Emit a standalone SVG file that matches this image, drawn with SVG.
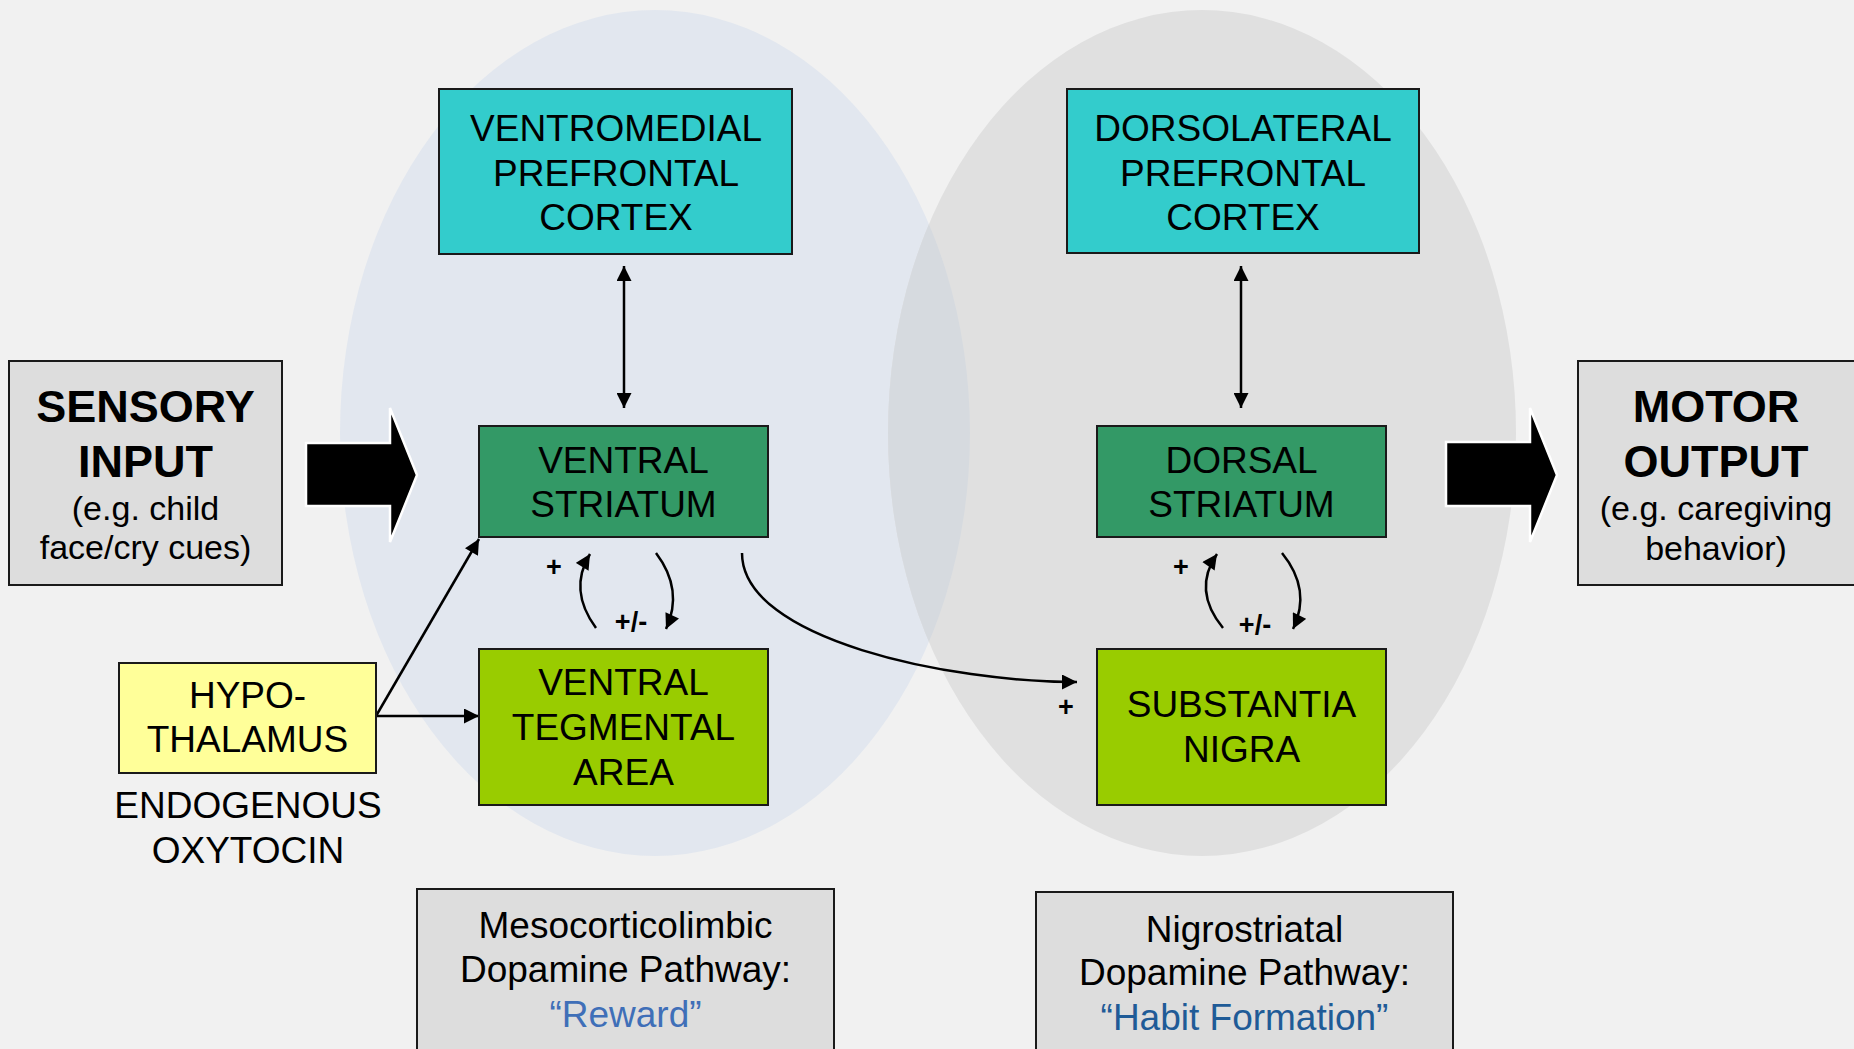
<svg xmlns="http://www.w3.org/2000/svg" width="1854" height="1049" viewBox="0 0 1854 1049">
<defs>
<style>
.box{stroke:#1a1a1a;stroke-width:2}
.t{font-family:"Liberation Sans",Arial,sans-serif;font-size:37px;fill:#000;text-anchor:middle}
.tb{font-family:"Liberation Sans",Arial,sans-serif;font-size:45px;font-weight:bold;fill:#000;text-anchor:middle}
.ts{font-family:"Liberation Sans",Arial,sans-serif;font-size:34px;fill:#000;text-anchor:middle}
.sg{font-family:"Liberation Sans",Arial,sans-serif;font-size:27px;font-weight:bold;fill:#000;text-anchor:middle}
.con{fill:none;stroke:#000;stroke-width:2.5}
.big{fill:#000;stroke:#fff;stroke-width:2.5}
</style>
<marker id="ah" viewBox="0 0 10 10" refX="10" refY="5" markerUnits="userSpaceOnUse" markerWidth="16" markerHeight="15" orient="auto-start-reverse">
<path d="M0,0 L10,5 L0,10 Z" fill="#000"/>
</marker>
<clipPath id="rightEll"><ellipse cx="1202" cy="433" rx="314" ry="423"/></clipPath>
</defs>
<rect x="0" y="0" width="1854" height="1049" fill="#f1f1f1"/>
<g id="ellipses">
<ellipse cx="655" cy="433" rx="315" ry="423" fill="#e2e7ef"/>
<ellipse cx="1202" cy="433" rx="314" ry="423" fill="#e0e0e0"/>
<ellipse cx="655" cy="433" rx="315" ry="423" fill="#d6dadf" clip-path="url(#rightEll)"/>
</g>
<g id="connectors">
<polygon class="big" points="306,443 390,443 390,408 417,475 390,542 390,506 306,506"/>
<polygon class="big" points="1446,442 1530,442 1530,408 1557,475 1530,542 1530,506 1446,506"/>
<line class="con" x1="624" y1="266" x2="624" y2="408" marker-start="url(#ah)" marker-end="url(#ah)"/>
<line class="con" x1="1241" y1="266" x2="1241" y2="408" marker-start="url(#ah)" marker-end="url(#ah)"/>
<line class="con" x1="376" y1="716" x2="479" y2="716" marker-end="url(#ah)"/>
<line class="con" x1="376" y1="716" x2="479" y2="539" marker-end="url(#ah)"/>
<path class="con" d="M742,553 C742,640 950,682 1077,682" marker-end="url(#ah)"/>
<path class="con" d="M596,628 Q568,590 590,554" marker-end="url(#ah)"/>
<path class="con" d="M656,553 Q684,590 666,629" marker-end="url(#ah)"/>
<path class="con" d="M1223,628 Q1192,590 1217,554" marker-end="url(#ah)"/>
<path class="con" d="M1282,553 Q1312,590 1293,629" marker-end="url(#ah)"/>
<text class="sg" x="554" y="576">+</text>
<text class="sg" x="631" y="631">+/-</text>
<text class="sg" x="1181" y="576">+</text>
<text class="sg" x="1255" y="634">+/-</text>
<text class="sg" x="1066" y="716">+</text>
</g>
<g id="sensory">
<rect class="box" x="9" y="361" width="273" height="224" fill="#dddddd"/>
<text class="tb" x="145.5" y="422">SENSORY</text>
<text class="tb" x="145.5" y="477">INPUT</text>
<text class="ts" x="145.5" y="520">(e.g. child</text>
<text class="ts" x="145.5" y="559">face/cry cues)</text>
</g>
<g id="motor">
<rect class="box" x="1578" y="361" width="290" height="224" fill="#dddddd"/>
<text class="tb" x="1716" y="422">MOTOR</text>
<text class="tb" x="1716" y="477">OUTPUT</text>
<text class="ts" x="1716" y="520">(e.g. caregiving</text>
<text class="ts" x="1716" y="560">behavior)</text>
</g>
<g id="vmpfc">
<rect class="box" x="439" y="89" width="353" height="165" fill="#33cccc"/>
<text class="t" x="616" y="141">VENTROMEDIAL</text>
<text class="t" x="616" y="186">PREFRONTAL</text>
<text class="t" x="616" y="230">CORTEX</text>
</g>
<g id="dlpfc">
<rect class="box" x="1067" y="89" width="352" height="164" fill="#33cccc"/>
<text class="t" x="1243" y="141">DORSOLATERAL</text>
<text class="t" x="1243" y="186">PREFRONTAL</text>
<text class="t" x="1243" y="230">CORTEX</text>
</g>
<g id="vs">
<rect class="box" x="479" y="426" width="289" height="111" fill="#339966"/>
<text class="t" x="623.5" y="473">VENTRAL</text>
<text class="t" x="623.5" y="517">STRIATUM</text>
</g>
<g id="ds">
<rect class="box" x="1097" y="426" width="289" height="111" fill="#339966"/>
<text class="t" x="1241.5" y="473">DORSAL</text>
<text class="t" x="1241.5" y="517">STRIATUM</text>
</g>
<g id="vta">
<rect class="box" x="479" y="649" width="289" height="156" fill="#99cc00"/>
<text class="t" x="623.5" y="695">VENTRAL</text>
<text class="t" x="623.5" y="740">TEGMENTAL</text>
<text class="t" x="623.5" y="785">AREA</text>
</g>
<g id="sn">
<rect class="box" x="1097" y="649" width="289" height="156" fill="#99cc00"/>
<text class="t" x="1241.5" y="717">SUBSTANTIA</text>
<text class="t" x="1241.5" y="762">NIGRA</text>
</g>
<g id="hypothalamus">
<rect class="box" x="119" y="663" width="257" height="110" fill="#ffff99"/>
<text class="t" x="247.5" y="708">HYPO-</text>
<text class="t" x="247.5" y="752">THALAMUS</text>
<text class="t" x="248" y="818">ENDOGENOUS</text>
<text class="t" x="248" y="863">OXYTOCIN</text>
</g>
<g id="meso">
<rect class="box" x="417" y="889" width="417" height="180" fill="#dddddd"/>
<text class="t" x="625.5" y="938">Mesocorticolimbic</text>
<text class="t" x="625.5" y="982">Dopamine Pathway:</text>
<text class="t" x="625.5" y="1027" style="fill:#3f6fb8">“Reward”</text>
</g>
<g id="nigro">
<rect class="box" x="1036" y="892" width="417" height="180" fill="#dddddd"/>
<text class="t" x="1244.5" y="942">Nigrostriatal</text>
<text class="t" x="1244.5" y="985">Dopamine Pathway:</text>
<text class="t" x="1244.5" y="1030" style="fill:#1f5b97">“Habit Formation”</text>
</g>
</svg>
